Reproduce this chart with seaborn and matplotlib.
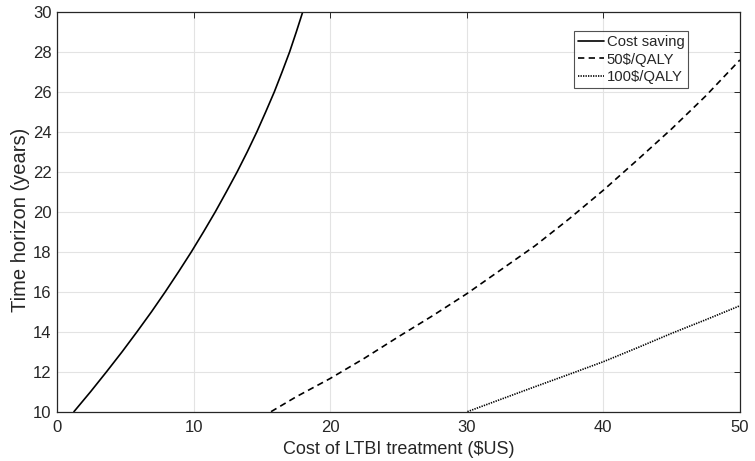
import numpy as np
import pandas as pd
import matplotlib.pyplot as plt
import seaborn as sns

sns.set_style('whitegrid')
plt.rcParams['font.family'] = ['Liberation Sans', 'DejaVu Sans']

# values
saving_cost = [1.24, 2.46, 3.63, 4.77, 5.86, 6.92, 7.93, 8.9, 9.84, 10.73, 11.59, 12.4,
               13.19, 13.93, 14.63, 15.28, 15.91, 16.48, 17.03, 17.52, 17.99]
saving_years = [10, 11, 12, 13, 14, 15, 16, 17, 18, 19, 20, 21,
                22, 23, 24, 25, 26, 27, 28, 29, 30]

q50_cost = [15.67, 17.5, 20.0, 22.5, 25.0, 27.5, 30.0, 32.5, 35.0, 37.5, 40.0, 42.5, 45.0, 47.5, 50.0]
q50_years = [10, 10.74, 11.66, 12.67, 13.75, 14.8, 15.9, 17.1, 18.3, 19.65, 21.08, 22.6, 24.15, 25.8, 27.6]

q100_cost = [30.05, 32.5, 35.0, 37.5, 40.0, 42.5, 45.0, 47.5, 50.0]
q100_years = [10, 10.62, 11.25, 11.87, 12.5, 13.2, 13.92, 14.6, 15.3]

df_saving = pd.DataFrame({'cost': saving_cost, 'years': saving_years})
df_q50 = pd.DataFrame({'cost': q50_cost, 'years': q50_years})
df_q100 = pd.DataFrame({'cost': q100_cost, 'years': q100_years})

fig = plt.figure(figsize=(7.55, 4.61), dpi=100)
ax = fig.add_axes([0.0755, 0.107, 0.9045, 0.867])

sns.lineplot(data=df_saving, x='cost', y='years', color='black', lw=1.2, label='Cost saving', ax=ax)
sns.lineplot(data=df_q50, x='cost', y='years', color='black', lw=1.2, ls=(0, (3.8, 2.6)), label='50$/QALY', ax=ax)
sns.lineplot(data=df_q100, x='cost', y='years', color='black', lw=1.2, ls=(0, (0.8, 0.7)), label='100$/QALY', ax=ax)

ax.set_xlim(0, 50)
ax.set_ylim(10, 30)
ax.set_xticks(np.arange(0, 51, 10))
ax.set_yticks(np.arange(10, 31, 2))
ax.grid(True, color='#e3e3e3', lw=0.8)
for s in ax.spines.values():
    s.set_color('#262626')
    s.set_linewidth(0.9)
ax.tick_params(direction='in', top=True, right=True, length=4, width=0.7,
               labelsize=12, colors='#262626', pad=4)
ax.tick_params(axis='x', pad=6)
ax.set_xlabel('Cost of LTBI treatment ($US)', fontsize=13, color='#262626', labelpad=4)
ax.set_ylabel('Time horizon (years)', fontsize=14.5, color='#262626')
ax.yaxis.set_label_coords(-0.040, 0.479)

leg = ax.legend(loc='upper right', bbox_to_anchor=(0.924, 0.952), fontsize=10.7,
                frameon=True, fancybox=False, handlelength=1.8, handletextpad=0.15,
                borderpad=0.25, labelspacing=0.25, borderaxespad=0)
leg.get_frame().set_edgecolor('#262626')
leg.get_frame().set_linewidth(0.8)

plt.savefig('out.png', dpi=100)
